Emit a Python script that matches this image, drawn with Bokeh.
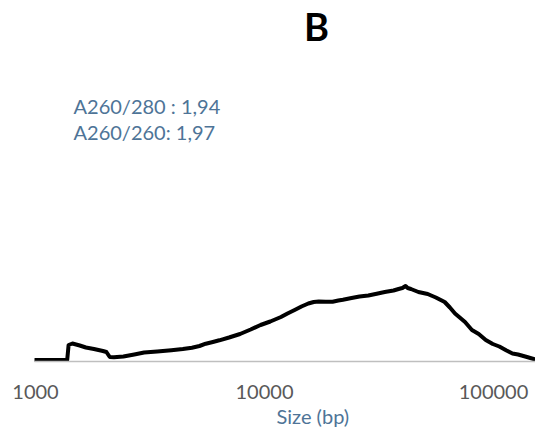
from bokeh.plotting import figure
from bokeh.models import Range1d, FixedTicker, Label, Title
from bokeh.embed import file_html
from bokeh.resources import INLINE

# Fragment size distribution (fluorescence vs. size, log axis)
size_bp = [990, 1375, 1395, 1450, 1560, 1660, 1800, 1970, 2040, 2110, 2200, 2420,
           2700, 2980, 3400, 3920, 4400, 4820, 5200, 5540, 5950, 6350, 7000, 7820,
           8700, 9610, 10600, 11800, 12600, 13540, 14500, 15540, 16400, 17260,
           18500, 19830, 21000, 22000, 24000, 26000, 28400, 30900, 33500, 36600,
           38500, 40000, 41300, 42200, 43600, 47000, 51600, 56000, 61200, 64500,
           67900, 75100, 80500, 86200, 92500, 99300, 106000, 114000, 121000,
           128000, 140000, 152400]
signal = [1.4, 1.4, 16.5, 18.0, 16.0, 14.0, 12.5, 10.5, 9.5, 4.5, 4.2, 5.0,
          7.0, 9.0, 10.0, 11.3, 12.5, 13.8, 15.5, 17.8, 19.5, 21.2, 24.0, 27.5,
          32.0, 36.5, 40.0, 44.5, 48.0, 51.5, 55.0, 58.0, 59.5, 60.0,
          59.8, 59.8, 61.0, 61.8, 63.5, 65.0, 66.0, 67.8, 69.5, 71.0,
          72.5, 73.5, 75.5, 73.5, 72.5, 69.5, 67.5, 64.0, 59.5, 54.0,
          48.0, 39.5, 31.5, 27.5, 21.5, 17.5, 15.0, 11.0, 8.0,
          7.0, 4.5, 2.0]

tick_values = [1000, 10000, 100000]
tick_labels = ["1000", "10000", "100000"]

title_text = "B"
ratio_lines = ["A260/280 : 1,94", "A260/260: 1,97"]
x_title = "Size (bp)"

FONT = "Lato"
BLUE = "#4E7497"

W, H = 535, 434
LEFT, BOTTOM = 34, 73
DECADE_PX = 229.0          # pixels per decade on the size axis
X0_PX = 35.0               # pixel where 1000 bp sits
FRAME_H = H - BOTTOM
CENTER_PX = 316            # horizontal centre of the chart area
X_TITLE_LEFT_PX = 276      # left edge of the axis title


def px_to_bp(px):
    return 10 ** (3 + (px - X0_PX) / DECADE_PX)


def py_to_val(py):
    return FRAME_H - py


p = figure(width=W, height=H, x_axis_type="log",
           x_range=Range1d(px_to_bp(LEFT), px_to_bp(W)),
           y_range=Range1d(0, FRAME_H),
           output_backend="svg", toolbar_location=None,
           min_border_left=LEFT, min_border_right=0,
           min_border_top=0, min_border_bottom=BOTTOM)
p.outline_line_color = None
p.background_fill_color = "white"
p.border_fill_color = "white"
p.grid.visible = False
p.yaxis.visible = False

ax = p.xaxis[0]
ax.ticker = FixedTicker(ticks=tick_values)
ax.major_label_overrides = {v: s for v, s in zip(tick_values, tick_labels)}
ax.axis_line_color = "#BFBFBF"
ax.axis_line_width = 1.5
ax.major_tick_line_color = None
ax.minor_tick_line_color = None
ax.major_tick_out = 0
ax.major_tick_in = 0
ax.major_label_standoff = 23
ax.major_label_text_font = FONT
ax.major_label_text_font_size = "20px"
ax.major_label_text_color = "#595959"

p.line(size_bp, signal, line_color="black", line_width=4,
       line_join="round", line_cap="round")

p.add_layout(Label(x=px_to_bp(CENTER_PX), y=py_to_val(25), text=title_text,
                   text_font=FONT, text_font_size="38px", text_font_style="bold",
                   text_color="black", text_align="center",
                   text_baseline="middle"))

for i, line in enumerate(ratio_lines):
    p.add_layout(Label(x=px_to_bp(73), y=py_to_val(105 + 26 * i), text=line,
                       text_font=FONT, text_font_size="20px", text_color=BLUE,
                       text_align="left", text_baseline="middle"))

# axis title, placed right of the frame centre
p.add_layout(Title(text=x_title, align="left",
                   offset=X_TITLE_LEFT_PX - LEFT, standoff=0,
                   text_font=FONT, text_font_size="20px",
                   text_font_style="normal", text_color=BLUE), "below")

open("out.html", "w").write(file_html(p, INLINE))
